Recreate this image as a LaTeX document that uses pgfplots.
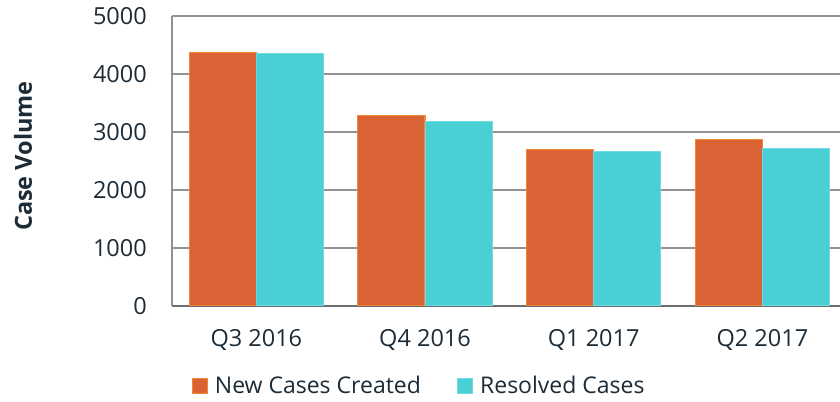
\documentclass[border=0pt]{standalone}
\usepackage{pgfplots}
\pgfplotsset{compat=1.18}
\usepackage{fontspec}
\setmainfont{Open Sans}
\definecolor{barorange}{HTML}{DA6234}
\definecolor{edgeorange}{HTML}{EE8A34}
\definecolor{barcyan}{HTML}{4ACFD5}
\definecolor{edgecyan}{HTML}{6FDBE0}
\definecolor{gridgray}{HTML}{929292}
\definecolor{textdark}{HTML}{1C2B36}
\begin{document}
\begin{tikzpicture}
\useasboundingbox (0,0) rectangle (840bp,402bp);
\begin{axis}[
    at={(172bp,96.3bp)}, anchor=south west,
    scale only axis,
    width=668bp, height=290bp,
    ybar=0pt, bar width=0.398,
    xmin=-0.5, xmax=3.46,
    ymin=0, ymax=5000,
    xtick=data,
    xticklabels={Q3 2016, Q4 2016, Q1 2017, Q2 2017},
    ytick={0,1000,2000,3000,4000,5000},
    major tick length=0pt,
    ymajorgrids=true,
    grid style={gridgray, line width=2bp},
    axis line style={gridgray, line width=2bp},
    axis x line*=bottom,
    axis y line*=left,
    x axis line style={-, draw=gray!85!black},
    y axis line style={-},
    ticklabel style={text=textdark, font=\fontsize{23.5bp}{28bp}\selectfont},
    /pgf/number format/assume math mode=true,
    /pgf/number format/1000 sep={},
    yticklabel style={inner sep=0pt, xshift=-25bp},
    xticklabel style={inner sep=0pt, yshift=-24bp},
    legend style={at={(axis description cs:0.37,-0.276)}, anchor=center, draw=none,
        legend columns=2, font=\fontsize{23bp}{28bp}\selectfont, text=textdark,
        /tikz/every even column/.append style={column sep=34bp}},
    legend image code/.code={\draw[#1, line width=1.2bp] (2bp,-7.5bp) rectangle (17bp,7.5bp);},
    legend cell align=left,
    clip=false,
]
\addplot[fill=barorange, draw=edgeorange, line width=1.2bp]
    coordinates {(0,4366) (1,3283) (2,2690) (3,2869)};
\addlegendentry{\hspace{5bp}New Cases Created}
\addplot[fill=barcyan, draw=edgecyan, line width=0.8bp]
    coordinates {(0,4352) (1,3179) (2,2655) (3,2714)};
\addlegendentry{\hspace{5bp}Resolved Cases}
\end{axis}
\node[rotate=90, text=textdark, font=\fontsize{23.5bp}{28bp}\selectfont\bfseries] at (23bp,246bp) {Case Volume};
\end{tikzpicture}
\end{document}
